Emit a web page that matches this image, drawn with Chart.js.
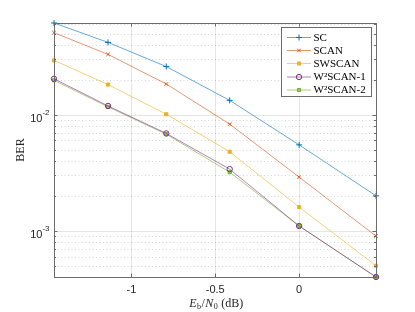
<!DOCTYPE html>
<html>
<head>
<meta charset="utf-8">
<script src="https://cdn.jsdelivr.net/npm/chart.js@4.4.0/dist/chart.umd.min.js"></script>
<style>
  html, body { margin: 0; padding: 0; background: #fff; }
  #wrap { width: 415px; height: 312px; position: relative; }
</style>
</head>
<body>
<div id="wrap"><canvas id="c" width="415" height="312"></canvas></div>
<script>
// ---- data ----
const ebn0 = [-1.461, -1.139, -0.792, -0.414, 0, 0.458];
const berSC      = [0.0617, 0.0420, 0.0260, 0.0133, 0.0055, 0.0020];
const berSCAN    = [0.0509, 0.0331, 0.0184, 0.0083, 0.0029, 0.0009];
const berSWSCAN  = [0.0294, 0.0182, 0.0101, 0.0048, 0.0016, 0.0005];
const berW2SCAN1 = [0.0204, 0.0119, 0.0069, 0.0034, 0.0011, 0.0004];
const berW2SCAN2 = [0.0198, 0.0117, 0.0068, 0.0032, 0.0011, 0.0004];
const seriesNames = ['SC', 'SCAN', 'SWSCAN', 'W\u00b2SCAN-1', 'W\u00b2SCAN-2'];
const xTickValues = [-1, -0.5, 0];
const xTickLabels = ['-1', '-0.5', '0'];
const yMajorTicks = [1e-3, 1e-2];
const yMajorExponents = ['-3', '-2'];
const xRange = [-1.461, 0.458];
const yRange = [4e-4, 0.0617];

const colors = ['#0072BD', '#D95319', '#EDB120', '#7E2F8E', '#77AC30'];
const lineColors = ['rgba(0,114,189,0.6)', 'rgba(217,83,25,0.6)', 'rgba(237,177,32,0.6)', 'rgba(126,47,142,0.6)', 'rgba(119,172,48,0.6)'];
const pStyles = ['cross', 'crossRot', 'rect', 'circle', 'rect'];
const pRadius = [3, 2.5, 2.2, 2.7, 2.2];
const pFill = [colors[0], colors[1], colors[2], 'rgba(255,255,255,0)', 'rgba(119,172,48,0.6)'];
const allSeries = [berSC, berSCAN, berSWSCAN, berW2SCAN1, berW2SCAN2];

const datasets = allSeries.map((arr, i) => ({
  label: seriesNames[i],
  data: arr.map((v, j) => ({ x: ebn0[j], y: v })),
  borderColor: lineColors[i],
  borderWidth: 1,
  pointStyle: pStyles[i],
  pointRadius: pRadius[i],
  pointBorderColor: colors[i],
  pointBackgroundColor: pFill[i],
  pointBorderWidth: 1,
  tension: 0,
  clip: false
}));

const L = 54, T = 23, R = 376, B = 277;
const W = 415, H = 312;

const decor = {
  id: 'decor',
  beforeDatasetsDraw(chart) {
    const ctx = chart.ctx, xs = chart.scales.x, ys = chart.scales.y;
    const a = chart.chartArea;
    ctx.save();
    ctx.strokeStyle = 'rgba(0,0,0,0.16)';
    ctx.lineWidth = 1;
    ctx.setLineDash([1, 2.5]);
    for (let e = -4; e <= -1; e++) {
      for (let m = 2; m <= 9; m++) {
        const v = m * Math.pow(10, e);
        if (v <= yRange[0] || v >= yRange[1]) continue;
        const y = Math.round(ys.getPixelForValue(v)) + 0.5;
        ctx.beginPath(); ctx.moveTo(a.left, y); ctx.lineTo(a.right, y); ctx.stroke();
      }
    }
    ctx.setLineDash([]);
    ctx.strokeStyle = 'rgba(0,0,0,0.10)';
    yMajorTicks.forEach(v => {
      const y = Math.round(ys.getPixelForValue(v)) + 0.5;
      ctx.beginPath(); ctx.moveTo(a.left, y); ctx.lineTo(a.right, y); ctx.stroke();
    });
    xTickValues.forEach(v => {
      const x = Math.round(xs.getPixelForValue(v)) + 0.5;
      ctx.beginPath(); ctx.moveTo(x, a.top); ctx.lineTo(x, a.bottom); ctx.stroke();
    });
    ctx.restore();
  },
  afterDatasetsDraw(chart) {
    const ctx = chart.ctx, xs = chart.scales.x, ys = chart.scales.y;
    const a = chart.chartArea;
    ctx.save();
    ctx.strokeStyle = '#6b6b6b';
    ctx.lineWidth = 1;
    ctx.strokeRect(Math.round(a.left) + 0.5, Math.round(a.top) + 0.5, Math.round(a.right - a.left), Math.round(a.bottom - a.top));
    xTickValues.forEach(v => {
      const x = Math.round(xs.getPixelForValue(v)) + 0.5;
      ctx.beginPath();
      ctx.moveTo(x, a.bottom); ctx.lineTo(x, a.bottom - 3.5);
      ctx.moveTo(x, a.top); ctx.lineTo(x, a.top + 3.5);
      ctx.stroke();
    });
    for (let e = -4; e <= -1; e++) {
      for (let m = 1; m <= 9; m++) {
        const v = m * Math.pow(10, e);
        if (v < yRange[0] || v > yRange[1]) continue;
        const y = Math.round(ys.getPixelForValue(v)) + 0.5;
        const len = m === 1 ? 3.5 : 2;
        ctx.beginPath();
        ctx.moveTo(a.left, y); ctx.lineTo(a.left + len, y);
        ctx.moveTo(a.right, y); ctx.lineTo(a.right - len, y);
        ctx.stroke();
      }
    }
    ctx.fillStyle = '#262626';
    ctx.font = '11px "Liberation Sans", Arial, sans-serif';
    ctx.textAlign = 'center';
    ctx.textBaseline = 'middle';
    xTickValues.forEach((v, i) => {
      ctx.fillText(xTickLabels[i], xs.getPixelForValue(v), 289.5);
    });
    yMajorTicks.forEach((v, i) => {
      const y = ys.getPixelForValue(v);
      ctx.font = '8px "Liberation Sans", Arial, sans-serif';
      ctx.textAlign = 'right';
      ctx.textBaseline = 'middle';
      const supW = ctx.measureText(yMajorExponents[i]).width;
      ctx.fillText(yMajorExponents[i], 49.5, y - 2);
      ctx.font = '11px "Liberation Sans", Arial, sans-serif';
      ctx.fillText('10', 49.5 - supW, y + 4);
    });
    ctx.save();
    ctx.translate(21, (a.top + a.bottom) / 2);
    ctx.rotate(-Math.PI / 2);
    ctx.font = '12px "Liberation Serif", "DejaVu Serif", serif';
    ctx.textAlign = 'center';
    ctx.textBaseline = 'middle';
    ctx.fillText('BER', 0, 0);
    ctx.restore();
    const parts = [
      { t: 'E', f: 'italic 12px "Liberation Serif", serif', dy: 0 },
      { t: 'b', f: '8px "Liberation Serif", serif', dy: 3 },
      { t: '/', f: '12px "Liberation Serif", serif', dy: 0 },
      { t: 'N', f: 'italic 12px "Liberation Serif", serif', dy: 0 },
      { t: '0', f: '8px "Liberation Serif", serif', dy: 3 },
      { t: ' (dB)', f: '12px "Liberation Serif", serif', dy: 0 }
    ];
    let tw = 0;
    parts.forEach(p => { ctx.font = p.f; p.w = ctx.measureText(p.t).width; tw += p.w; });
    let x0 = 215 - tw / 2;
    ctx.textAlign = 'left';
    ctx.textBaseline = 'middle';
    parts.forEach(p => { ctx.font = p.f; ctx.fillText(p.t, x0, 304 + p.dy); x0 += p.w + 0.5; });
    ctx.restore();
  },
  afterDraw(chart) {
    const ctx = chart.ctx;
    ctx.save();
    ctx.fillStyle = '#fff';
    ctx.fillRect(281.5, 27.5, 90, 69);
    ctx.strokeStyle = '#6b6b6b';
    ctx.lineWidth = 1;
    ctx.strokeRect(281.5, 27.5, 90, 69);
    const ys = [37.5, 50.5, 63.5, 77, 90];
    chart.data.datasets.forEach((ds, i) => {
      const y = ys[i];
      ctx.strokeStyle = ds.borderColor;
      ctx.lineWidth = 1;
      ctx.beginPath(); ctx.moveTo(287, y); ctx.lineTo(311, y); ctx.stroke();
      ctx.fillStyle = ds.pointBackgroundColor;
      ctx.strokeStyle = ds.pointBorderColor;
      Chart.helpers.drawPoint(ctx, { pointStyle: ds.pointStyle, radius: ds.pointRadius, borderWidth: 1, rotation: 0 }, 299, y);
      ctx.fillStyle = '#000';
      ctx.font = '11px "Liberation Serif", "DejaVu Serif", serif';
      ctx.textAlign = 'left';
      ctx.textBaseline = 'middle';
      ctx.fillText(ds.label, 313.5, y + 0.5);
    });
    ctx.restore();
  }
};

new Chart(document.getElementById('c'), {
  type: 'line',
  data: { datasets },
  options: {
    responsive: false,
    animation: false,
    devicePixelRatio: 1,
    layout: { padding: { left: 0, top: T, right: W - R, bottom: 0 } },
    plugins: { legend: { display: false }, tooltip: { enabled: false } },
    scales: {
      x: {
        type: 'linear', min: xRange[0], max: xRange[1],
        grid: { display: false }, border: { display: false },
        ticks: { display: false },
        afterFit(s) { s.height = H - B; }
      },
      y: {
        type: 'logarithmic', min: yRange[0], max: yRange[1],
        grid: { display: false }, border: { display: false },
        ticks: { display: false },
        afterFit(s) { s.width = L; }
      }
    }
  },
  plugins: [decor]
});
</script>
</body>
</html>
